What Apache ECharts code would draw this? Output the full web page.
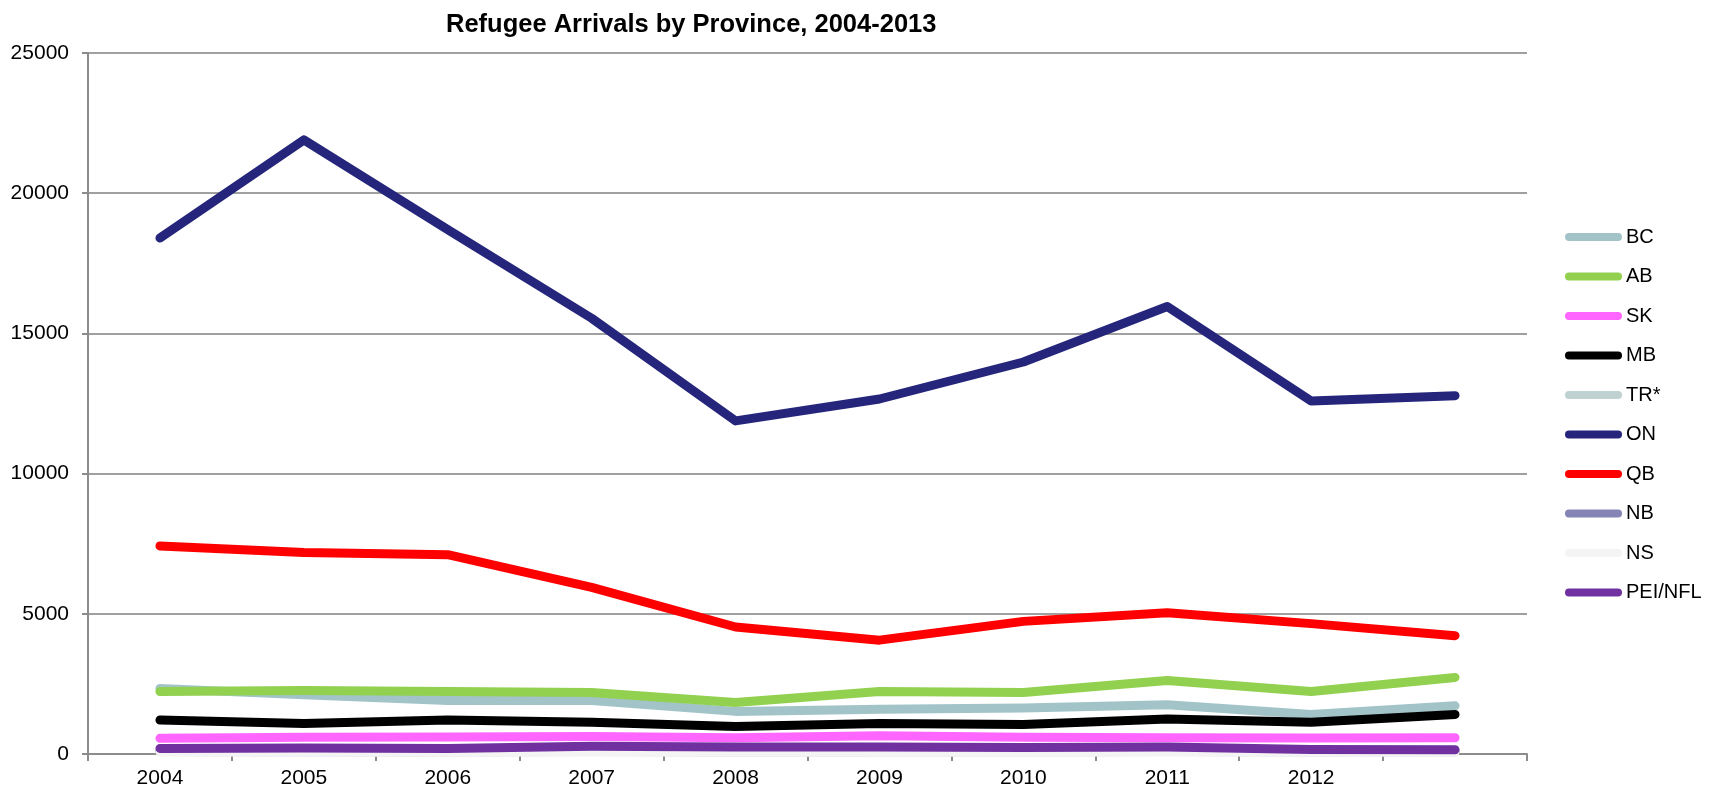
<!DOCTYPE html>
<html>
<head>
<meta charset="utf-8">
<title>Refugee Arrivals by Province, 2004-2013</title>
<script src="https://cdn.jsdelivr.net/npm/echarts@6/dist/echarts.min.js"></script>
<style>
  html, body { margin: 0; padding: 0; background: #ffffff; }
  #chart { width: 1709px; height: 791px; }
</style>
</head>
<body>
<div id="chart"></div>
<script>
// Category labels along the x axis (the final year is left unlabelled)
const categories = ['2004', '2005', '2006', '2007', '2008', '2009', '2010', '2011', '2012', ''];

// Arrivals per province, 2004 through 2013
const BC     = [2340, 2110, 1910, 1910, 1520, 1600, 1640, 1760, 1410, 1720];
const AB     = [2230, 2265, 2230, 2190, 1840, 2230, 2190, 2620, 2230, 2730];
const SK     = [560, 600, 610, 620, 580, 650, 600, 580, 570, 580];
const MB     = [1210, 1090, 1210, 1130, 980, 1090, 1050, 1250, 1130, 1410];
const TR     = [110, 90, 90, 100, 80, 90, 90, 100, 90, 100];
const ON     = [18400, 21900, 18700, 15540, 11880, 12660, 13980, 15960, 12590, 12780];
const QB     = [7420, 7190, 7110, 5940, 4530, 4060, 4730, 5040, 4650, 4220];
const NB     = [90, 80, 80, 90, 80, 80, 80, 90, 80, 80];
const NS     = [70, 60, 60, 70, 60, 60, 60, 70, 60, 60];
const PEINFL = [200, 210, 200, 280, 250, 250, 230, 250, 160, 150];

// Y axis range and step
const yMin = 0;
const yMax = 25000;
const yStep = 5000;

const seriesDefs = [
  { name: 'BC',      data: BC,     color: '#A2C4C9' },
  { name: 'AB',      data: AB,     color: '#92D050' },
  { name: 'SK',      data: SK,     color: '#FF66FF' },
  { name: 'MB',      data: MB,     color: '#000000' },
  { name: 'TR*',     data: TR,     color: '#BFD1D1' },
  { name: 'ON',      data: ON,     color: '#25257B' },
  { name: 'QB',      data: QB,     color: '#FF0000' },
  { name: 'NB',      data: NB,     color: '#8585B5' },
  { name: 'NS',      data: NS,     color: '#F4F4F4' },
  { name: 'PEI/NFL', data: PEINFL, color: '#7030A0' }
];

const font = '"Liberation Sans", Arial, sans-serif';
const axisGray = '#8C8C8C';

const chart = echarts.init(document.getElementById('chart'), null, { renderer: 'canvas' });

chart.setOption({
  animation: false,
  backgroundColor: '#ffffff',
  title: {
    text: 'Refugee Arrivals by Province, 2004-2013',
    left: 446,
    top: 12,
    padding: 0,
    textStyle: { fontFamily: font, fontSize: 25.5, fontWeight: 'bold', color: '#000000' }
  },
  grid: { left: 88, right: 182, top: 53, bottom: 37, containLabel: false },
  legend: {
    orient: 'vertical',
    left: 1565,
    top: 227,
    padding: 0,
    itemGap: 19.5,
    itemWidth: 57,
    itemHeight: 8,
    icon: 'path://M4,0 L53,0 A4,4 0 0 1 53,8 L4,8 A4,4 0 0 1 4,0 Z',
    textStyle: { fontFamily: font, fontSize: 20, color: '#000000', padding: [0, 0, 0, -1] },
    data: seriesDefs.map(s => s.name)
  },
  xAxis: {
    type: 'category',
    data: categories,
    boundaryGap: true,
    axisLine: { lineStyle: { color: axisGray, width: 2 } },
    axisTick: { show: true, length: 7, lineStyle: { color: axisGray, width: 2 }, alignWithLabel: false },
    axisLabel: { fontFamily: font, fontSize: 21, color: '#000000', margin: 14, interval: 0 },
    splitLine: { show: false }
  },
  yAxis: {
    type: 'value',
    min: yMin,
    max: yMax,
    interval: yStep,
    axisLine: { show: true, lineStyle: { color: axisGray, width: 2 } },
    axisTick: { show: true, length: 6, lineStyle: { color: axisGray, width: 2 } },
    axisLabel: {
      fontFamily: font, fontSize: 21, color: '#000000', margin: 19,
      formatter: v => String(v)
    },
    splitLine: { show: true, lineStyle: { color: '#A0A0A0', width: 2 } }
  },
  series: seriesDefs.map(s => ({
    name: s.name,
    type: 'line',
    data: s.data,
    symbol: 'none',
    showSymbol: false,
    color: s.color,
    itemStyle: { color: s.color },
    lineStyle: { color: s.color, width: 9, cap: 'round', join: 'round' },
    emphasis: { disabled: true }
  }))
});
</script>
</body>
</html>
